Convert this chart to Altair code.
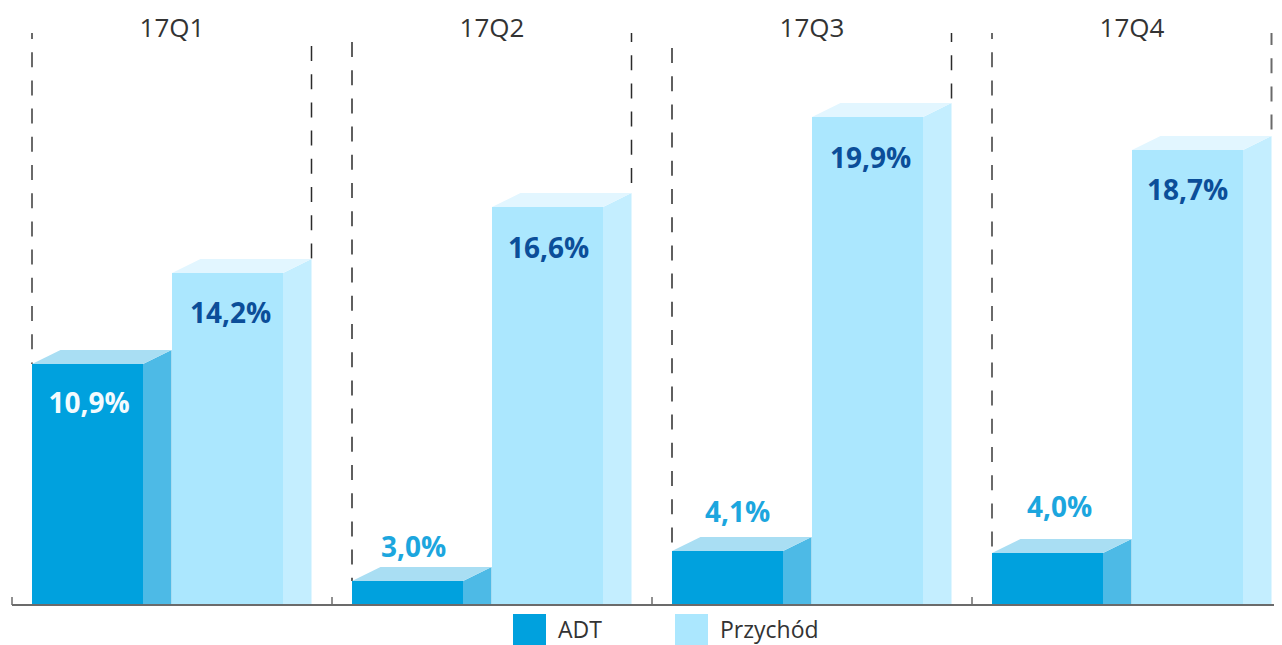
import altair as alt
import pandas as pd

# --- data ---
quarters = ["17Q1", "17Q2", "17Q3", "17Q4"]
series = ["ADT", "Przychód"]
adt_labels = ["10,9%", "3,0%", "4,1%", "4,0%"]
rev_labels = ["14,2%", "16,6%", "19,9%", "18,7%"]
adt_heights = [241, 24, 54, 52]      # drawn heights (the source is not to scale)
rev_heights = [332, 398, 488, 455]
adt_label_heights = [200, 56, 91, 96]
rev_label_heights = [290, 355, 445, 413]
adt_label_shift = [1.5, 6, 10, 12]
rev_label_shift = [3, 1, 3, 0]
left_dash_start = [572, 563, 557, 572]
right_dash_start = [559, 572, 572, 572]
left_dash_phase = [9, 0, 0, 9]
right_dash_phase = [0, 6, 6, 3]
left_dash_tone = ["grey", "dark", "dark", "grey"]
right_dash_tone = ["dark", "dark", "dark", "grey"]

# --- geometry / style ---
W, H = 1266, 637
UNIT = 320
X0 = 24          # left of the first bar
BASE = 597
BAR = 111
PITCH = 140
DX = 28.5
DY = 14
FONT = "Open Sans"
FRONT = {"ADT": "#00A1DE", "Przychód": "#ABE7FE"}
SIDE = {"ADT": "#4DBAE6", "Przychód": "#C4EEFF"}
TOP = {"ADT": "#A9DEF3", "Przychód": "#E2F6FF"}
DASH_STYLE = {"dark": ("#2b2b2b", 1.5), "grey": ("#6a6a6a", 2.0)}

front, side, top, labels, dashes = [], [], [], [], []
for g, q in enumerate(quarters):
    left = X0 + g * UNIT
    for s, name, hs, ls, lh, sh in (
        (0, series[0], adt_heights, adt_labels, adt_label_heights, adt_label_shift),
        (1, series[1], rev_heights, rev_labels, rev_label_heights, rev_label_shift),
    ):
        h = hs[g]
        x0 = left + s * PITCH
        x1 = x0 + BAR
        key = f"{q}-{name}"
        front.append(dict(x=x0, x2=x1, y=h, y2=0, series=name))
        side += [
            dict(x=x1, y=h, y2=0, key=key, series=name),
            dict(x=x1 + DX, y=h + DY, y2=0, key=key, series=name),
        ]
        top += [
            dict(x=x0, y=h, y2=h, key=key, series=name),
            dict(x=x0 + DX, y=h + DY, y2=h, key=key, series=name),
            dict(x=x1, y=h + DY, y2=h, key=key, series=name),
            dict(x=x1 + DX, y=h + DY, y2=h + DY, key=key, series=name),
        ]
        inside = lh[g] < h
        labels.append(dict(
            x=x0 + BAR / 2 + sh[g], y=lh[g], text=ls[g],
            tone="white" if (inside and s == 0) else ("dark" if inside else "blue"),
        ))
    dashes.append(dict(x=left, y=left_dash_start[g], y2=adt_heights[g],
                       phase=left_dash_phase[g], tone=left_dash_tone[g]))
    dashes.append(dict(x=left + PITCH + BAR + DX, y=right_dash_start[g], y2=rev_heights[g] + DY,
                       phase=right_dash_phase[g], tone=right_dash_tone[g]))

x_scale = alt.Scale(domain=[0, W], range=[0, W], nice=False, zero=False)
y_scale = alt.Scale(domain=[BASE - H, BASE], range=[H, 0], nice=False, zero=False)
X = alt.X("x:Q", scale=x_scale, axis=None)
Y = alt.Y("y:Q", scale=y_scale, axis=None)

color_enc = alt.Color(
    "series:N",
    scale=alt.Scale(domain=series, range=[FRONT[series[0]], FRONT[series[1]]]),
    legend=alt.Legend(
        title=None, orient="none", legendX=505, legendY=606, direction="horizontal",
        symbolType="square", symbolSize=1089, symbolStrokeWidth=0, symbolOpacity=1,
        labelFont=FONT, labelFontSize=23, labelColor="#333333", labelOffset=12,
        columnPadding=73, labelLimit=200, rowPadding=0, padding=0,
    ),
)

front_layer = alt.Chart(pd.DataFrame(front)).mark_rect(opacity=1).encode(
    x=X, x2="x2:Q", y=Y, y2="y2:Q", color=color_enc
)
side_layer = alt.Chart(pd.DataFrame(side)).mark_area(opacity=1).encode(
    x=X, y=Y, y2="y2:Q", detail="key:N",
    fill=alt.Fill("series:N", scale=alt.Scale(domain=series, range=[SIDE[series[0]], SIDE[series[1]]]), legend=None),
)
top_layer = alt.Chart(pd.DataFrame(top)).mark_area(opacity=1).encode(
    x=X, y=Y, y2="y2:Q", detail="key:N",
    fill=alt.Fill("series:N", scale=alt.Scale(domain=series, range=[TOP[series[0]], TOP[series[1]]]), legend=None),
)

dash_df = pd.DataFrame(dashes)
dash_layers = []
for (phase, tone), part in dash_df.groupby(["phase", "tone"]):
    colour, width = DASH_STYLE[tone]
    dash_layers.append(
        alt.Chart(part[["x", "y", "y2"]]).mark_rule(
            strokeWidth=width, strokeDash=[15, 13.2], strokeDashOffset=int(phase), color=colour
        ).encode(x=X, y=Y, y2="y2:Q")
    )

axis_df = pd.DataFrame([dict(x=4, x2=W, y=0)])
axis_layer = alt.Chart(axis_df).mark_rule(strokeWidth=2, color="#6b6b6b").encode(x=X, x2="x2:Q", y=Y)
tick_df = pd.DataFrame([dict(x=4 + i * UNIT, y=0, y2=8) for i in range(4)])
tick_layer = alt.Chart(tick_df).mark_rule(strokeWidth=1.5, color="#6b6b6b").encode(x=X, y=Y, y2="y2:Q")

label_df = pd.DataFrame(labels)
label_layer = alt.Chart(label_df).mark_text(
    font=FONT, fontSize=28, fontWeight="bold", baseline="middle", align="center"
).encode(
    x=X, y=Y, text="text:N",
    color=alt.Color("tone:N", scale=alt.Scale(domain=["white", "dark", "blue"], range=["#F4FBFE", "#0B4E99", "#1CA6DE"]), legend=None),
)
title_df = pd.DataFrame([dict(x=X0 + i * UNIT + 140, y=BASE - 21, text=q) for i, q in enumerate(quarters)])
title_layer = alt.Chart(title_df).mark_text(
    font=FONT, fontSize=26, baseline="middle", align="center", color="#333333"
).encode(x=X, y=Y, text="text:N")

chart = alt.layer(
    *dash_layers, front_layer, side_layer, top_layer, axis_layer, tick_layer, label_layer, title_layer
).resolve_scale(color="independent", fill="independent").properties(
    width=W, height=H, padding=0, autosize=alt.AutoSizeParams(type="none")
).configure_view(stroke=None)

chart.save("out.html", embed_options={"renderer": "svg", "actions": False})
